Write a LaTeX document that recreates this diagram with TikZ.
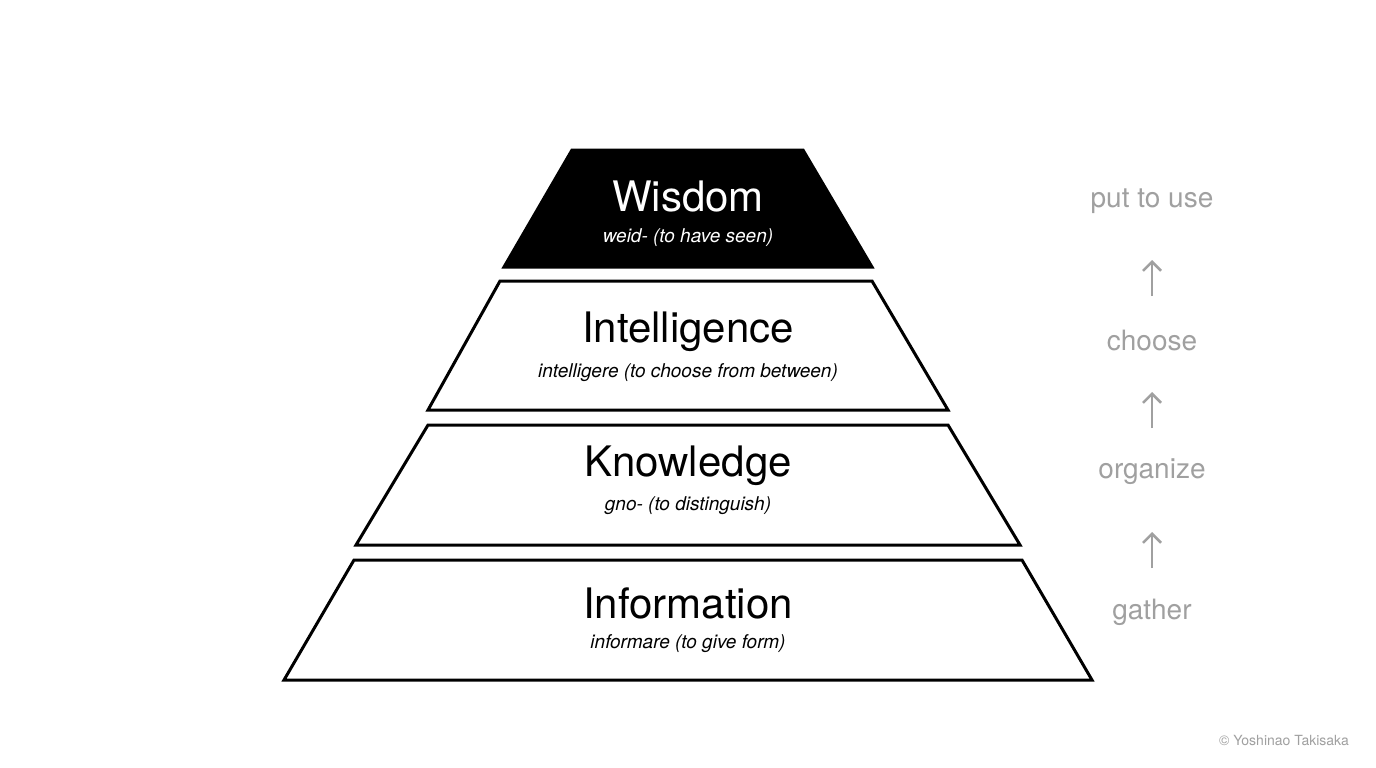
\documentclass[tikz,border=0pt]{standalone}
\usepackage{fontspec}
\setmainfont{TeX Gyre Heros}
\usetikzlibrary{arrows.meta}
\definecolor{lightg}{RGB}{160,160,160}
\tikzset{
  layer/.style={draw=black,line width=3pt,line join=miter},
  title/.style={font=\fontsize{42}{46}\selectfont,anchor=center,inner sep=0},
  sub/.style={font=\fontsize{19}{22}\selectfont\itshape,anchor=center,inner sep=0},
  side/.style={font=\fontsize{28}{32}\selectfont,text=lightg,anchor=center,inner sep=0},
  up/.style={draw=lightg,line width=2.5pt,-{Straight Barb[length=9pt,width=18pt,line width=2.5pt]}}
}
\begin{document}
\begin{tikzpicture}[x=1pt,y=-1pt]
\useasboundingbox (0,0) rectangle (1376,768);
\fill[white] (0,0) rectangle (1376,768);
\filldraw[layer,fill=black] (572,150) -- (803,150) -- (872,267) -- (504,267) -- cycle;
\draw[layer] (500,281) -- (872,281) -- (948,410) -- (428,410) -- cycle;
\draw[layer] (428,425) -- (948,425) -- (1020,545) -- (356,545) -- cycle;
\draw[layer] (354,560) -- (1022,560) -- (1092,680) -- (284,680) -- cycle;
\node[title,text=white] (w) at (688,197) {Wisdom};
\node[sub,text=white] (ws) at (688,238) {weid- (to have seen)};
\node[title] (i) at (688,332) {Intelligence};
\node[sub] (is) at (688,373) {intelligere (to choose from between)};
\node[title] (k) at (688,466) {Knowledge};
\node[sub] (ks) at (688,506) {gno- (to distinguish)};
\node[title] (f) at (688,603) {Information};
\node[sub] (fs) at (688,644) {informare (to give form)};
\node[side] (p) at (1152,201) {put to use};
\node[side] (c) at (1152,341) {choose};
\node[side] (o) at (1152,472) {organize};
\node[side] (g) at (1152,612) {gather};
\coordinate (a1s) at (1152,296); \coordinate (a1e) at (1152,260);
\coordinate (a2s) at (1152,428); \coordinate (a2e) at (1152,392);
\coordinate (a3s) at (1152,568); \coordinate (a3e) at (1152,532);
\draw[up] (a1s) -- (a1e);
\draw[up] (a2s) -- (a2e);
\draw[up] (a3s) -- (a3e);
\node[font=\fontsize{14}{16}\selectfont,text=lightg,anchor=center,inner sep=0] (cr) at (1284,740) {© Yoshinao Takisaka};
\end{tikzpicture}
\end{document}
